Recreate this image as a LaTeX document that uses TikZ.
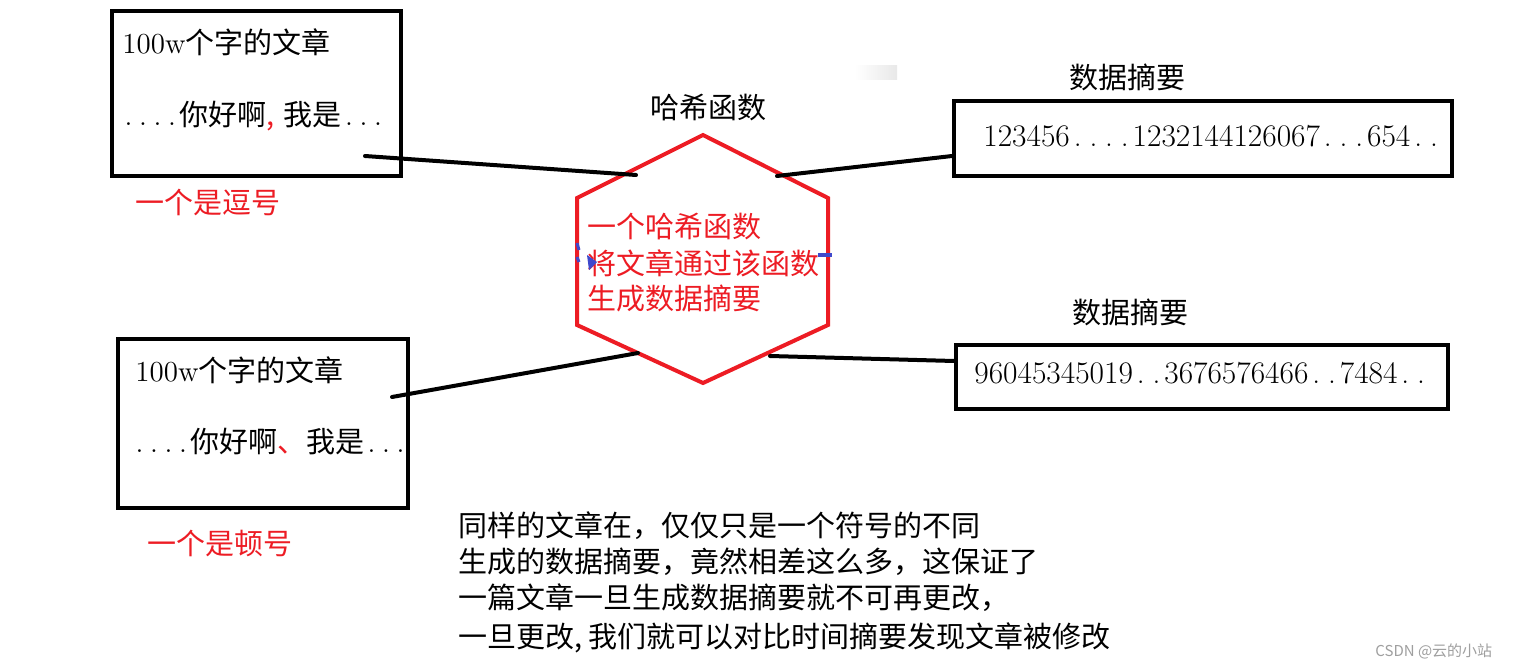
\documentclass[tikz,border=0pt]{standalone}
\usepackage{fontspec}
\newfontfamily\cjk{Noto Sans CJK SC}
\newcommand\mydot{\makebox[0.5em]{.}}
\definecolor{pred}{HTML}{ED1C24}
\definecolor{pblue}{HTML}{3F48CC}
\tikzset{
  txt/.style={inner sep=0pt, anchor=base west, font=\fontsize{14.5pt}{17pt}\selectfont},
  dtxt/.style={inner sep=0pt, anchor=base west, font=\fontsize{15.7pt}{18pt}\selectfont},
  rtxt/.style={txt, text=pred},
  frame/.style={draw=black, line width=2.2pt, fill=none},
  conn/.style={draw=black, line width=2pt, line cap=round},
  hexline/.style={draw=pred, line width=2pt, line join=miter},
}
\begin{document}
\begin{tikzpicture}[x=0.5pt,y=-0.5pt]
\useasboundingbox (0,0) rectangle (1526,668);
\fill[white] (0,0) rectangle (1526,668);
% faint artifact
\shade[left color=white, right color=gray!18] (855,66) rectangle (897,80);

% left boxes
\draw[frame] (112,11) rectangle (401,176);
\node[txt] (a1) at (122,54) {100w\cjk 个字的文章};
\node[txt] (a2) at (121,126) {\mydot\mydot\mydot\mydot\cjk 你好啊\textcolor{pred}{\makebox[0.6em][l]{,}}我是\normalfont\mydot\mydot\mydot};
\node[rtxt] (la) at (135,214) {\cjk 一个是逗号};

\draw[frame] (118,339) rectangle (408,508);
\node[txt] (b1) at (135,381) {100w\cjk 个字的文章};
\node[txt] (b2) at (132,452) {\mydot\mydot\mydot\mydot\cjk 你好啊\textcolor{pred}{、}我是\normalfont\mydot\mydot\mydot};
\node[rtxt] (lb) at (147,554) {\cjk 一个是顿号};

% hexagon
\coordinate (h1) at (703,135);
\coordinate (h2) at (828,198);
\coordinate (h3) at (828,325);
\coordinate (h4) at (703,383);
\coordinate (h5) at (577,325);
\coordinate (h6) at (577,198);
\draw[hexline] (h1) -- (h2) -- (h3) -- (h4) -- (h5) -- (h6) -- cycle;
\node[txt] (ht) at (650,119) {\cjk 哈希函数};
\node[rtxt] (hx1) at (587,238) {\cjk 一个哈希函数};
\node[rtxt] (hx2) at (587,275) {\cjk 将文章通过该函数};
\node[rtxt] (hx3) at (587,310) {\cjk 生成数据摘要};
% blue marks
\draw[pblue, line width=2pt] (818,255) -- (832,255);
\draw[pblue, line width=1.5pt] (577,243) -- (579,250);
\draw[pblue, line width=1.5pt] (577,257) -- (579,262);
\fill[pblue] (587,255) -- (597,262) -- (589,270) -- cycle;

% right boxes
\node[txt] (t1) at (1069,89) {\cjk 数据摘要};
\draw[frame] (954,101) rectangle (1452,176);
\node[dtxt] (d1) at (983,147) {123456\mydot\mydot\mydot\mydot 1232144126067\mydot\mydot\mydot 654\mydot\mydot};
\node[txt] (t2) at (1072,323) {\cjk 数据摘要};
\draw[frame] (956,345) rectangle (1448,409);
\node[dtxt] (d2) at (974,383) {96045345019\mydot\mydot 3676576466\mydot\mydot 7484\mydot\mydot};

% connectors
\coordinate (c1a) at (365,156);
\coordinate (c1b) at (636,175);
\coordinate (c2a) at (777,176);
\coordinate (c2b) at (952,156);
\coordinate (c3a) at (392,397);
\coordinate (c3b) at (638,353);
\coordinate (c4a) at (770,356);
\coordinate (c4b) at (954,361);
\draw[conn] (c1a) -- (c1b);
\draw[conn] (c2a) -- (c2b);
\draw[conn] (c3a) -- (c3b);
\draw[conn] (c4a) -- (c4b);

% bottom text
\node[txt] (n1) at (458,536) {\cjk 同样的文章在，仅仅只是一个符号的不同};
\node[txt] (n2) at (458,572) {\cjk 生成的数据摘要，竟然相差这么多，这保证了};
\node[txt] (n3) at (458,608) {\cjk 一篇文章一旦生成数据摘要就不可再更改，};
\node[txt] (n4) at (458,647) {\cjk 一旦更改\makebox[0.5em][l]{,}我们就可以对比时间摘要发现文章被修改};

% watermark
\node[inner sep=0pt, anchor=base west, text=gray!75, font=\cjk\fontsize{7.5pt}{9pt}\selectfont] (wm) at (1375,656) {CSDN @云的小站};
\end{tikzpicture}
\end{document}
